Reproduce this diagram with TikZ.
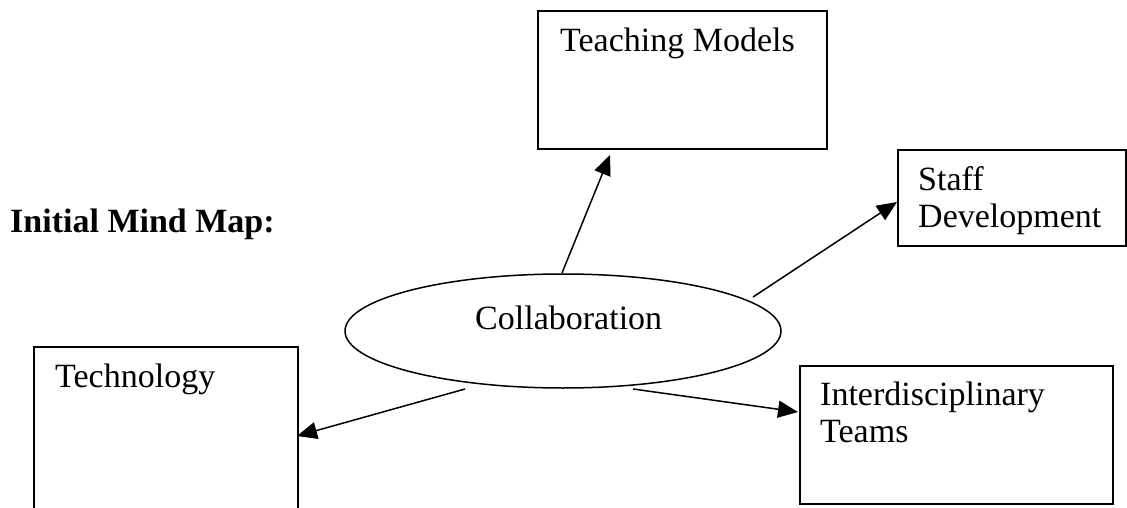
\documentclass[tikz,border=0pt]{standalone}
\usepackage{fontspec}
\setmainfont{Liberation Serif}
\usetikzlibrary{arrows.meta,shapes.geometric}
\begin{document}
\begin{tikzpicture}[x=1pt,y=-1pt,
  box/.style={draw,line width=1.6pt,inner sep=0pt,anchor=north west},
  lbl/.style={anchor=base west,inner sep=0pt,font=\fontsize{34}{38}\selectfont},
  arr/.style={line width=1.5pt,-{Triangle[length=20pt,width=17pt]}}]
\path[use as bounding box] (0,0) rectangle (1127,508);
\clip (0,0) rectangle (1127,508);

% title
\node[lbl,font=\fontsize{34}{38}\selectfont\bfseries] (title) at (10,232) {Initial Mind Map:};

% central idea
\node[draw,ellipse,line width=1.5pt,minimum width=436pt,minimum height=114pt,inner sep=0pt] (collab) at (563,331) {};
\node[lbl] (collabtxt) at (475,329) {Collaboration};

% surrounding boxes
\node[box,minimum width=289pt,minimum height=138pt] (teach) at (537,10) {};
\node[lbl] (teachtxt) at (560,52) {Teaching Models};

\node[box,minimum width=228pt,minimum height=96pt] (staff) at (897,149) {};
\node[lbl] (stafftxt1) at (918,190) {Staff};
\node[lbl] (stafftxt2) at (918,227) {Development};

\node[box,minimum width=264pt,minimum height=180pt] (tech) at (33,346) {};
\node[lbl] (techtxt) at (55,387) {Technology};

\node[box,minimum width=313pt,minimum height=138pt] (inter) at (799,365) {};
\node[lbl] (intertxt1) at (820,405) {Interdisciplinary};
\node[lbl] (intertxt2) at (820,442) {Teams};

% arrow end points
\coordinate (s1) at (562,273); \coordinate (e1) at (610,155);
\coordinate (s2) at (753,297); \coordinate (e2) at (897,202);
\coordinate (s3) at (465,389); \coordinate (e3) at (297,436);
\coordinate (s4) at (633,389); \coordinate (e4) at (798,412);

\draw[arr] (s1) -- (e1);
\draw[arr] (s2) -- (e2);
\draw[arr] (s3) -- (e3);
\draw[arr] (s4) -- (e4);
\end{tikzpicture}
\end{document}
